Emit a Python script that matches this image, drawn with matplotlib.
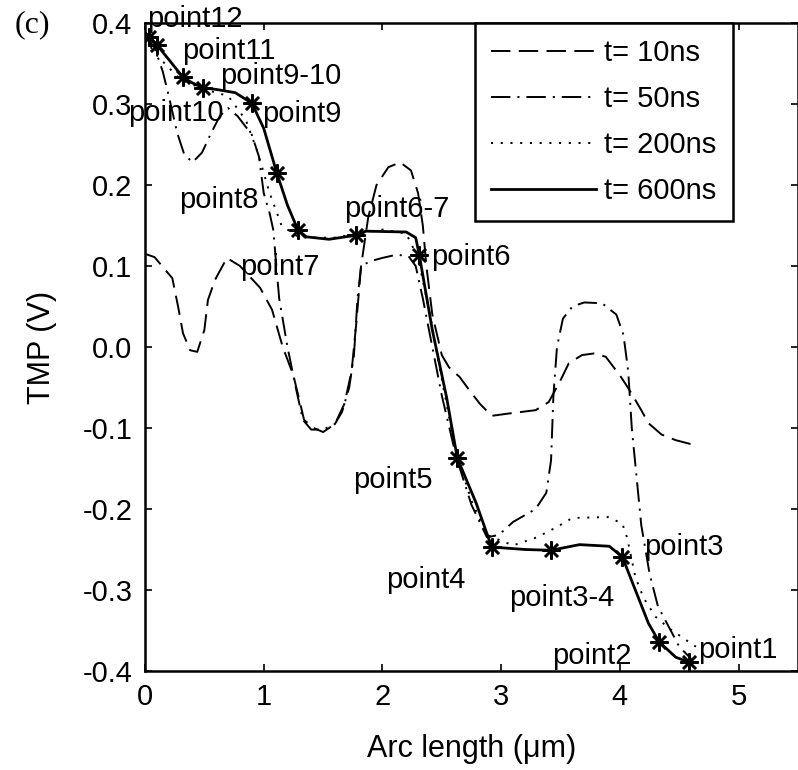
import matplotlib
matplotlib.use('Agg')
import matplotlib.pyplot as plt

plt.rcParams['font.family'] = ['Liberation Sans', 'DejaVu Sans']
plt.rcParams['axes.unicode_minus'] = False
plt.rcParams['lines.scale_dashes'] = False

# t = 10 ns (dashed)
x10 = [0.0, 0.08, 0.23, 0.28, 0.32, 0.38, 0.44, 0.5, 0.53, 0.59, 0.69, 0.8, 0.97, 1.07, 1.16,
       1.25, 1.34, 1.42, 1.5, 1.6, 1.68, 1.74, 1.78, 1.82, 1.88, 1.95, 2.05, 2.15, 2.24, 2.3,
       2.34, 2.37, 2.42, 2.5, 2.56, 2.65, 2.73, 2.82, 2.92, 3.07, 3.29, 3.4, 3.49, 3.57, 3.68,
       3.78, 3.88, 4.0, 4.08, 4.18, 4.24, 4.35, 4.47, 4.6]
y10 = [0.115, 0.111, 0.085, 0.049, 0.017, -0.004, -0.006, 0.021, 0.058, 0.083, 0.11, 0.1, 0.073,
       0.046, 0.0, -0.035, -0.09, -0.1, -0.105, -0.095, -0.07, -0.03, 0.03, 0.1, 0.16, 0.2, 0.222,
       0.228, 0.218, 0.19, 0.15, 0.1, 0.04, -0.01, -0.025, -0.037, -0.053, -0.07, -0.085, -0.082,
       -0.078, -0.068, -0.044, -0.02, -0.01, -0.008, -0.012, -0.035, -0.053, -0.078, -0.094,
       -0.108, -0.115, -0.12]

# t = 50 ns (dash-dot)
x50 = [0.0, 0.08, 0.15, 0.2, 0.27, 0.33, 0.4, 0.48, 0.56, 0.63, 0.7, 0.78, 0.9, 0.96, 1.0, 1.05,
       1.08, 1.13, 1.2, 1.27, 1.33, 1.4, 1.5, 1.6, 1.66, 1.72, 1.76, 1.79, 1.82, 1.9, 2.0, 2.12,
       2.22, 2.28, 2.34, 2.42, 2.5, 2.62, 2.75, 2.88, 2.98, 3.1, 3.29, 3.38, 3.42, 3.44, 3.47,
       3.52, 3.6, 3.7, 3.85, 3.97, 4.03, 4.07, 4.1, 4.14, 4.18, 4.25, 4.32, 4.41, 4.5, 4.6]
y50 = [0.385, 0.37, 0.34, 0.31, 0.265, 0.238, 0.228, 0.24, 0.265, 0.285, 0.295, 0.285, 0.262,
       0.235, 0.19, 0.165, 0.145, 0.06, 0.0, -0.05, -0.09, -0.102, -0.102, -0.095, -0.08, -0.05,
       -0.01, 0.06, 0.1, 0.106, 0.11, 0.114, 0.112, 0.1, 0.06, 0.0, -0.06, -0.135, -0.195,
       -0.235, -0.232, -0.216, -0.2, -0.18, -0.14, -0.06, 0.0, 0.035, 0.05, 0.055, 0.054, 0.04,
       0.015, -0.03, -0.1, -0.16, -0.22, -0.28, -0.32, -0.345, -0.37, -0.385]

# t = 200 ns (dotted)
x200 = [0.0, 0.1, 0.3, 0.5, 0.7, 0.85, 0.95, 1.05, 1.15, 1.3, 1.6, 1.8, 2.0, 2.2, 2.3, 2.4, 2.5,
        2.62, 2.75, 2.88, 2.98, 3.1, 3.3, 3.46, 3.6, 3.9, 4.02, 4.06, 4.13, 4.2, 4.3, 4.42,
        4.52, 4.64]
y200 = [0.38, 0.36, 0.33, 0.318, 0.31, 0.28, 0.24, 0.19, 0.15, 0.135, 0.135, 0.14, 0.145, 0.14,
        0.11, 0.04, -0.04, -0.13, -0.19, -0.232, -0.238, -0.245, -0.235, -0.223, -0.211, -0.21,
        -0.218, -0.235, -0.284, -0.31, -0.333, -0.348, -0.358, -0.37]

# t = 600 ns (solid)
x600 = [0.0, 0.03, 0.1, 0.2, 0.32, 0.4, 0.49, 0.6, 0.76, 0.9, 1.0, 1.11, 1.2, 1.29, 1.36, 1.55,
        1.78, 1.86, 2.2, 2.28, 2.31, 2.42, 2.54, 2.63, 2.79, 2.92, 3.2, 3.42, 3.66, 3.91, 4.02,
        4.13, 4.24, 4.33, 4.47, 4.58]
y600 = [0.388, 0.383, 0.373, 0.355, 0.333, 0.326, 0.32, 0.318, 0.314, 0.301, 0.27, 0.215, 0.175,
        0.144, 0.136, 0.133, 0.138, 0.143, 0.142, 0.135, 0.114, 0.021, -0.062, -0.137, -0.193,
        -0.247, -0.25, -0.251, -0.244, -0.246, -0.259, -0.3, -0.341, -0.364, -0.383, -0.389]

# marked points on the 600 ns curve
pt_names = ['point12', 'point11', 'point9-10', 'point10', 'point9', 'point8', 'point7',
            'point6-7', 'point6', 'point5', 'point4', 'point3-4', 'point3', 'point2', 'point1']
pt_x = [0.03, 0.10, 0.49, 0.32, 0.90, 1.11, 1.29, 1.78, 2.31, 2.63, 2.92, 3.42, 4.02, 4.33, 4.58]
pt_y = [0.383, 0.373, 0.32, 0.333, 0.301, 0.215, 0.144, 0.138, 0.114, -0.137, -0.247, -0.251,
        -0.259, -0.364, -0.389]

# where each label sits (left edge, vertical centre)
lab_pos = [(0.02, 0.405), (0.31, 0.366), (0.63, 0.335), (-0.143, 0.289), (0.99, 0.288),
           (0.29, 0.181), (0.80, 0.099), (1.68, 0.170), (2.41, 0.111), (1.75, -0.164),
           (2.03, -0.288), (3.07, -0.31), (4.20, -0.247), (3.43, -0.381), (4.66, -0.374)]

fig = plt.figure(figsize=(7.98, 7.70), dpi=100)
ax = fig.add_axes([0.1817, 0.1286, 0.8183, 0.8415])

ax.plot(x10, y10, color='black', lw=1.4, linestyle=(0, (14, 6)), label='t= 10ns')
ax.plot(x50, y50, color='black', lw=1.4, linestyle=(0, (14, 5, 1.5, 5)), label='t= 50ns')
ax.plot(x200, y200, color='black', lw=1.4, linestyle=(0, (1.5, 5.5)), label='t= 200ns')
ax.plot(x600, y600, color='black', lw=2.0, linestyle='-', label='t= 600ns')
ax.plot(pt_x, pt_y, linestyle='none', marker=(8, 2, 0), markersize=13, mew=1.8,
        color='black')

for name, (lx, ly) in zip(pt_names, lab_pos):
    ax.text(lx, ly, name, fontsize=21, ha='left', va='center', clip_on=False)

ax.set_xlim(0, 5.5)
ax.set_ylim(-0.4, 0.4)
ax.set_xticks([0, 1, 2, 3, 4, 5])
ax.set_yticks([-0.4, -0.3, -0.2, -0.1, 0.0, 0.1, 0.2, 0.3, 0.4])
ax.set_yticklabels(['%.1f' % v for v in ax.get_yticks()])
ax.tick_params(direction='in', top=True, right=True, length=5, width=1.2,
               labelsize=21, pad=9)
for s in ax.spines.values():
    s.set_linewidth(1.8)

ax.set_xlabel('Arc length (μm)', fontsize=22)
ax.xaxis.set_label_coords(0.5, -0.097)
ax.set_ylabel('TMP (V)', fontsize=22)
ax.yaxis.set_label_coords(-0.135, 0.5)

leg = ax.legend(loc='upper left', bbox_to_anchor=(0.5046, 1.0), borderaxespad=0,
                fontsize=21, handlelength=3.6, handletextpad=0.3, labelspacing=0.62,
                borderpad=0.55, fancybox=False, framealpha=1, edgecolor='black')
leg.get_frame().set_linewidth(1.8)

fig.text(32 / 798, 1 - 25 / 770, '(c)', fontsize=23, ha='center', va='center',
         family=['Liberation Serif', 'DejaVu Serif'])

fig.savefig('out.png', dpi=100)
